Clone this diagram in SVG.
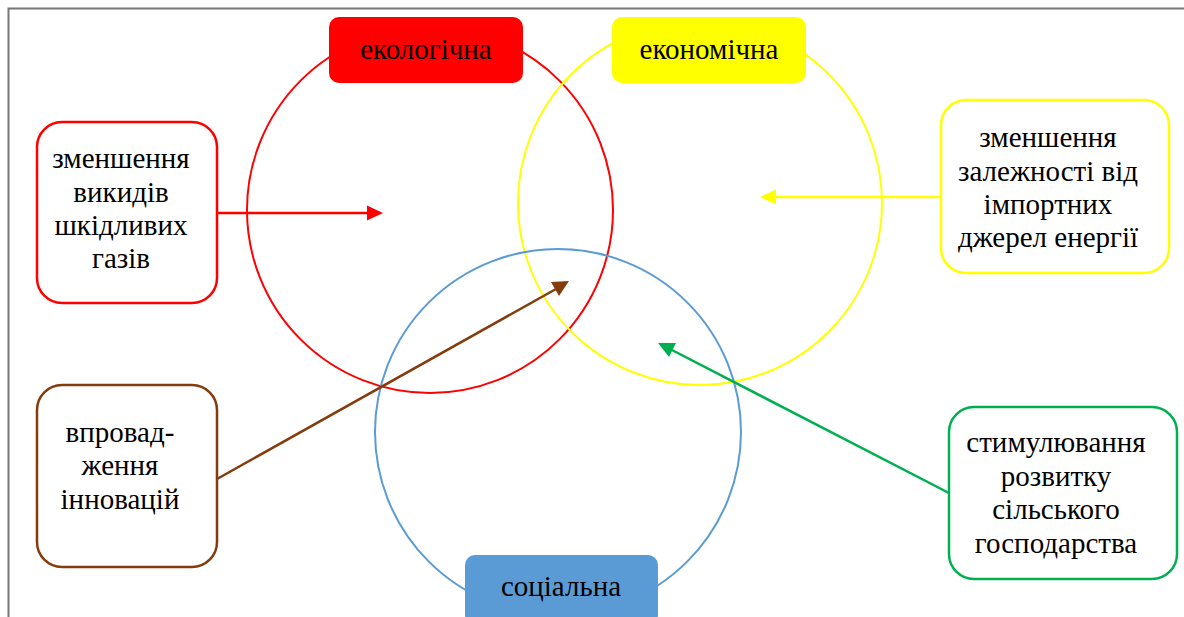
<svg xmlns="http://www.w3.org/2000/svg" width="1184" height="617" viewBox="0 0 1184 617">
<style>
.t{font-family:'Liberation Serif','Times New Roman',serif;font-size:29px;fill:#000;text-anchor:middle}
.circ{fill:none;stroke-width:2}
.box{fill:#fff;stroke-width:2.5}
.line{fill:none;stroke-width:2.5}
</style>
<rect x="0" y="0" width="1184" height="617" fill="#fff"/>
<path d="M8.5,617 V8.5 H1184" fill="none" stroke="#777" stroke-width="2"/>
<g id="circles">
<circle id="c-eco" class="circ" cx="430" cy="210" r="183" stroke="#FF0000"/>
<circle id="c-econ" class="circ" cx="700" cy="203" r="182" stroke="#FFFF00"/>
<circle id="c-soc" class="circ" cx="558" cy="432" r="183" stroke="#5B9BD5"/>
</g>
<g id="connectors">
<line class="line" x1="217" y1="213" x2="368" y2="213" stroke="#FF0000"/>
<path d="M383,213 L367,205.5 L367,220.5 z" fill="#FF0000"/>
<line class="line" x1="941" y1="197" x2="775" y2="197" stroke="#FFFF00"/>
<path d="M760,197 L776,189.5 L776,204.5 z" fill="#FFFF00"/>
<line class="line" x1="217" y1="479" x2="556" y2="289" stroke="#843C0C"/>
<path d="M569,281 L551,282 L559,296 z" fill="#843C0C"/>
<line class="line" x1="949" y1="493" x2="670" y2="349" stroke="#00B050"/>
<path d="M658,343 L676,343 L669,357 z" fill="#00B050"/>
</g>
<g id="n-eco">
<rect x="329" y="17" width="194" height="66" rx="10" fill="#FF0000"/>
<text class="t" x="426" y="59">екологічна</text>
</g>
<g id="n-econ">
<rect x="612" y="17" width="194" height="66" rx="10" fill="#FFFF00"/>
<text class="t" x="709" y="59">економічна</text>
</g>
<g id="n-soc">
<rect x="465" y="555" width="193" height="70" rx="10" fill="#5B9BD5"/>
<text class="t" x="561" y="596">соціальна</text>
</g>
<g id="n-gas">
<rect class="box" x="37" y="122" width="180" height="181" rx="25" stroke="#FF0000"/>
<text class="t" x="121" y="168">зменшення</text>
<text class="t" x="121" y="202">викидів</text>
<text class="t" x="121" y="235">шкідливих</text>
<text class="t" x="121" y="268">газів</text>
</g>
<g id="n-import">
<rect class="box" x="941" y="100" width="228" height="173" rx="25" stroke="#FFFF00"/>
<text class="t" x="1048" y="147">зменшення</text>
<text class="t" x="1048" y="181">залежності від</text>
<text class="t" x="1048" y="214">імпортних</text>
<text class="t" x="1048" y="247">джерел енергії</text>
</g>
<g id="n-innov">
<rect class="box" x="37" y="385" width="180" height="182" rx="25" stroke="#843C0C"/>
<text class="t" x="120" y="442">впровад-</text>
<text class="t" x="120" y="475">ження</text>
<text class="t" x="120" y="509">інновацій</text>
</g>
<g id="n-rural">
<rect class="box" x="949" y="407" width="228" height="172" rx="25" stroke="#00B050"/>
<text class="t" x="1056" y="452">стимулювання</text>
<text class="t" x="1056" y="486">розвитку</text>
<text class="t" x="1056" y="519">сільського</text>
<text class="t" x="1056" y="553">господарства</text>
</g>
</svg>
